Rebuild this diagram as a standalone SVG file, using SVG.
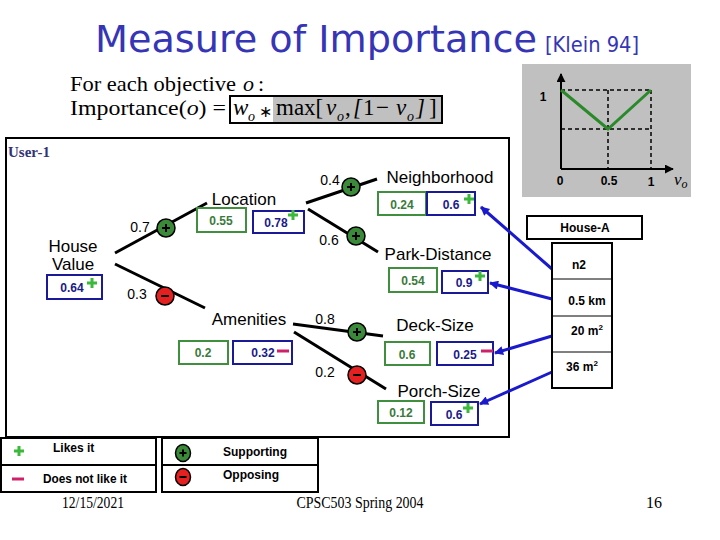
<svg xmlns="http://www.w3.org/2000/svg" width="720" height="540" viewBox="0 0 720 540">
<style>
.title{font-family:"DejaVu Sans","Liberation Sans",sans-serif;fill:#3535b5}
.serif{font-family:"Liberation Serif","Times New Roman",serif;fill:#000}
.lbl{font-family:"Liberation Sans",Arial,sans-serif;font-size:17px;fill:#000;text-anchor:middle}
.w{font-family:"Liberation Sans",Arial,sans-serif;font-size:14px;fill:#000;text-anchor:middle}
.gb{fill:#fff;stroke:#3f8f3f;stroke-width:2}
.bb{fill:#fff;stroke:#1a1a99;stroke-width:2}
.gv{font-family:"Liberation Sans",Arial,sans-serif;font-weight:bold;font-size:12px;fill:#3a7a3a;text-anchor:middle}
.bv{font-family:"Liberation Sans",Arial,sans-serif;font-weight:bold;font-size:12px;fill:#1a1a8a;text-anchor:middle}
.edge{stroke:#000;stroke-width:3;fill:none}
.arr{stroke:#1a1acc;stroke-width:3;fill:none;marker-end:url(#ah)}
.b12{font-family:"Liberation Sans",Arial,sans-serif;font-weight:bold;font-size:12px;fill:#000}
.tbl{fill:#fff;stroke:#000;stroke-width:2}
.dash{stroke:#000;stroke-width:1.5;stroke-dasharray:4 3;fill:none}
.foot{font-family:"Liberation Serif","Times New Roman",serif;font-size:16px;fill:#000;text-anchor:middle}
</style>
<defs>
<marker id="ah" viewBox="0 0 10 10" refX="9" refY="5" markerWidth="11" markerHeight="9" markerUnits="userSpaceOnUse" orient="auto">
<path d="M0,0L10,5L0,10z" fill="#1a1acc"/>
</marker>
<marker id="ax" viewBox="0 0 10 10" refX="9" refY="5" markerWidth="9" markerHeight="9" markerUnits="userSpaceOnUse" orient="auto">
<path d="M0,0L10,5L0,10z" fill="#000"/>
</marker>
<g id="like"><path d="M-5,0H5M0,-5V5" stroke="#3cb83c" stroke-width="3"/></g>
<g id="dislike"><path d="M-6,0H6" stroke="#d0206a" stroke-width="3"/></g>
<g id="sup"><circle r="9" fill="#3a8a3a" stroke="#000" stroke-width="1.5"/><path d="M-4,0H4M0,-4V4" stroke="#000" stroke-width="2"/></g>
<g id="opp"><circle r="9" fill="#e52020" stroke="#000" stroke-width="1.5"/><path d="M-4,0H4" stroke="#000" stroke-width="2"/></g>
</defs>
<rect width="720" height="540" fill="#fff"/>

<g id="title">
<text class="title" x="95" y="52" font-size="38" textLength="442" lengthAdjust="spacingAndGlyphs">Measure of Importance</text>
<text class="title" x="545" y="52" font-size="21" textLength="94" lengthAdjust="spacingAndGlyphs">[Klein 94]</text>
</g>

<g id="formula">
<text class="serif" x="70" y="91" font-size="22" textLength="166" lengthAdjust="spacingAndGlyphs">For each objective</text>
<text class="serif" x="243" y="91" font-size="22" font-style="italic">o</text>
<text class="serif" x="258" y="91" font-size="22">:</text>
<text class="serif" x="70" y="115" font-size="22" textLength="156" lengthAdjust="spacingAndGlyphs">Importance(<tspan font-style="italic">o</tspan>) =</text>
<rect x="230" y="96" width="212" height="27" fill="#fff" stroke="#000" stroke-width="2"/>
<rect x="273" y="97" width="168" height="25" fill="#c0c0c0"/>
<text class="serif" y="115" font-size="23"><tspan x="233" font-style="italic">w</tspan><tspan x="248" y="121" font-size="14" font-style="italic">o</tspan><tspan x="259" y="117" font-size="16">∗</tspan><tspan x="276" y="115">max[</tspan><tspan x="326" font-style="italic">v</tspan><tspan x="337" y="121" font-size="14" font-style="italic">o</tspan><tspan x="345" y="115">,</tspan><tspan x="353" font-style="italic">[</tspan><tspan x="363">1</tspan><tspan x="376">−</tspan><tspan x="396" font-style="italic">v</tspan><tspan x="407" y="121" font-size="14" font-style="italic">o</tspan><tspan x="416" y="115" font-style="italic">]</tspan><tspan x="429">]</tspan></text>
</g>

<g id="chart">
<rect x="522" y="64" width="169" height="133" fill="#c0c0c0"/>
<path class="dash" d="M561,90H651M561,129H651M608,90V169M651,90V169"/>
<path d="M561,169V74" stroke="#000" stroke-width="2" marker-end="url(#ax)"/>
<path d="M561,169H673" stroke="#000" stroke-width="2" marker-end="url(#ax)"/>
<path d="M561,90L608,129L651,90" stroke="#2a8a2a" stroke-width="3" fill="none"/>
<text class="b12" x="543" y="101" text-anchor="middle">1</text>
<text class="b12" x="560" y="185" text-anchor="middle">0</text>
<text class="b12" x="609" y="185" text-anchor="middle">0.5</text>
<text class="b12" x="651" y="186" text-anchor="middle">1</text>
<text class="serif" x="674" y="185" font-size="17" font-style="italic">v<tspan font-size="12" dy="3">o</tspan></text>
</g>

<g id="frame">
<rect x="6" y="138" width="503" height="299" fill="none" stroke="#000" stroke-width="2"/>
<text x="8" y="157" font-family="'Liberation Serif','Times New Roman',serif" font-weight="bold" font-size="15" fill="#333377">User-1</text>
</g>

<g id="connectors">
<path class="edge" d="M115,253L207,203"/>
<path class="edge" d="M115,264L205,308"/>
<path class="edge" d="M306,203L377,179"/>
<path class="edge" d="M308,209L378,252"/>
<path class="edge" d="M293,324L383,336"/>
<path class="edge" d="M294,332L386,389"/>
<use href="#sup" x="166" y="228"/>
<use href="#opp" x="165" y="296"/>
<use href="#sup" x="351" y="187"/>
<use href="#sup" x="356" y="236"/>
<use href="#sup" x="357" y="332"/>
<use href="#opp" x="357" y="375"/>
<text class="w" x="140" y="232">0.7</text>
<text class="w" x="137" y="299">0.3</text>
<text class="w" x="330" y="185">0.4</text>
<text class="w" x="329" y="245">0.6</text>
<text class="w" x="325" y="324">0.8</text>
<text class="w" x="325" y="377">0.2</text>
<path class="arr" d="M552,269L481,207"/>
<path class="arr" d="M552,299L490,283"/>
<path class="arr" d="M552,336L495,353"/>
<path class="arr" d="M552,372L480,404"/>
</g>

<g id="house-value">
<text class="lbl" x="73" y="252" font-size="16">House</text>
<text class="lbl" x="73" y="270" font-size="16">Value</text>
<rect class="bb" x="47" y="275" width="55" height="24"/>
<text class="bv" x="72" y="292">0.64</text>
<use href="#like" x="92" y="283"/>
</g>

<g id="location">
<text class="lbl" x="244" y="205">Location</text>
<rect class="gb" x="197" y="208" width="49" height="24"/>
<text class="gv" x="221" y="225">0.55</text>
<rect class="bb" x="253" y="211" width="51" height="22"/>
<text class="bv" x="276" y="227">0.78</text>
<use href="#like" x="293" y="215"/>
</g>

<g id="neighborhood">
<text class="lbl" x="440" y="183">Neighborhood</text>
<rect class="gb" x="378" y="192" width="48" height="23"/>
<text class="gv" x="402" y="209">0.24</text>
<rect class="bb" x="427" y="192" width="48" height="23"/>
<text class="bv" x="451" y="209">0.6</text>
<use href="#like" x="469" y="199"/>
</g>

<g id="park-distance">
<text class="lbl" x="438" y="260">Park-Distance</text>
<rect class="gb" x="389" y="268" width="48" height="24"/>
<text class="gv" x="413" y="285">0.54</text>
<rect class="bb" x="442" y="271" width="46" height="22"/>
<text class="bv" x="464" y="287">0.9</text>
<use href="#like" x="480" y="276"/>
</g>

<g id="amenities">
<text class="lbl" x="249" y="325">Amenities</text>
<rect class="gb" x="179" y="341" width="49" height="23"/>
<text class="gv" x="203" y="357">0.2</text>
<rect class="bb" x="233" y="341" width="59" height="23"/>
<text class="bv" x="263" y="357">0.32</text>
<use href="#dislike" x="283" y="351"/>
</g>

<g id="deck-size">
<text class="lbl" x="435" y="331">Deck-Size</text>
<rect class="gb" x="385" y="342" width="45" height="23"/>
<text class="gv" x="407" y="359">0.6</text>
<rect class="bb" x="437" y="342" width="56" height="23"/>
<text class="bv" x="465" y="359">0.25</text>
<use href="#dislike" x="487" y="351"/>
</g>

<g id="porch-size">
<text class="lbl" x="439" y="397">Porch-Size</text>
<rect class="gb" x="378" y="401" width="46" height="22"/>
<text class="gv" x="401" y="417">0.12</text>
<rect class="bb" x="431" y="402" width="47" height="23"/>
<text class="bv" x="454" y="419">0.6</text>
<use href="#like" x="468" y="408"/>
</g>

<g id="house-a">
<rect x="527" y="216" width="115" height="23" fill="#fff" stroke="#000" stroke-width="2"/>
<text class="b12" x="585" y="232" text-anchor="middle">House-A</text>
<rect x="552" y="243" width="60" height="145" fill="#fff" stroke="#000" stroke-width="2"/>
<path d="M552,279H612M552,316H612M552,352H612" stroke="#000" stroke-width="1"/>
<text class="b12" x="579" y="269" text-anchor="middle">n2</text>
<text class="b12" x="587" y="305" text-anchor="middle">0.5 km</text>
<text class="b12" x="587" y="335" text-anchor="middle">20 m<tspan font-size="8" dy="-5">2</tspan></text>
<text class="b12" x="582" y="371" text-anchor="middle">36 m<tspan font-size="8" dy="-5">2</tspan></text>
</g>

<g id="legend">
<rect class="tbl" x="1" y="438" width="155" height="54"/>
<path d="M1,465H156" stroke="#000" stroke-width="2"/>
<use href="#like" x="19" y="451"/>
<text class="b12" x="53" y="452">Likes it</text>
<use href="#dislike" x="18" y="479"/>
<text class="b12" x="43" y="483" textLength="84" lengthAdjust="spacingAndGlyphs">Does not like it</text>
<rect class="tbl" x="162" y="438" width="156" height="54"/>
<path d="M162,465H318" stroke="#000" stroke-width="2"/>
<ellipse cx="183" cy="453" rx="7.5" ry="8.5" fill="#3a8a3a" stroke="#000" stroke-width="1.5"/>
<path d="M179.5,453H186.5M183,449.5V456.5" stroke="#000" stroke-width="2"/>
<text class="b12" x="223" y="456">Supporting</text>
<ellipse cx="183" cy="477" rx="7.5" ry="8.5" fill="#e52020" stroke="#000" stroke-width="1.5"/>
<path d="M179.5,477H186.5" stroke="#000" stroke-width="2"/>
<text class="b12" x="223" y="479">Opposing</text>
</g>

<g id="footer">
<text class="foot" x="93" y="508" textLength="62" lengthAdjust="spacingAndGlyphs">12/15/2021</text>
<text class="foot" x="360" y="508" textLength="127" lengthAdjust="spacingAndGlyphs">CPSC503 Spring 2004</text>
<text class="foot" x="654" y="508">16</text>
</g>
</svg>
